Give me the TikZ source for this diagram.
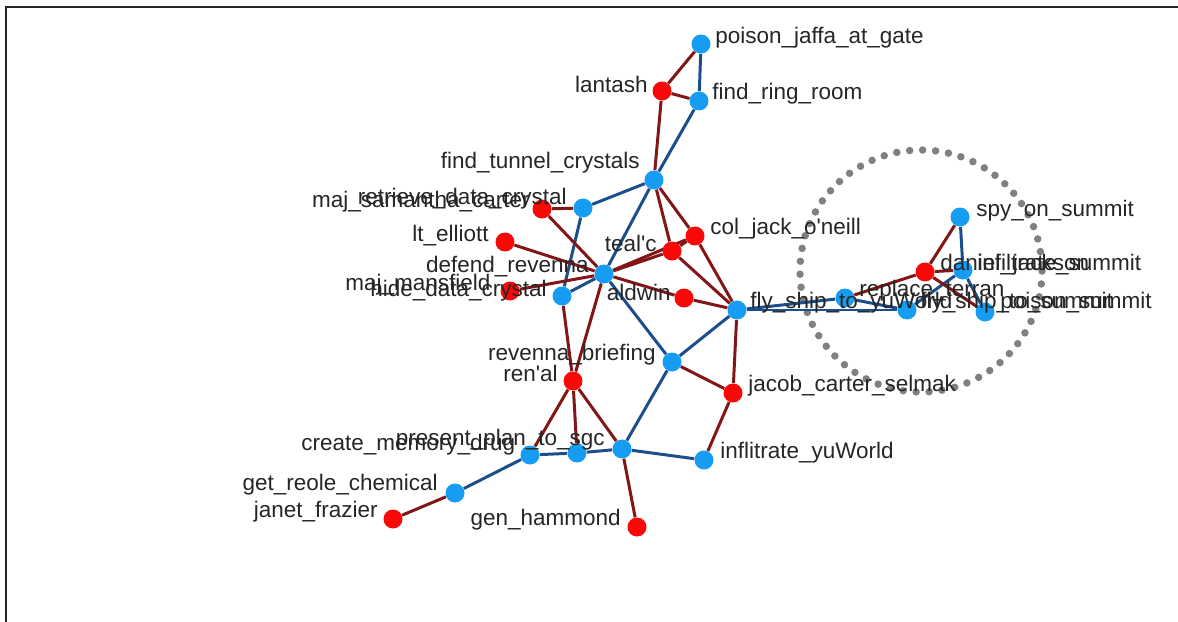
\documentclass[tikz,border=0pt]{standalone}
\usepackage{fontspec}
\setmainfont{Liberation Sans}
\usepackage{xcolor}
\usepackage{tikz}
\usetikzlibrary{backgrounds}
\definecolor{actblue}{RGB}{22,156,242}
\definecolor{agentred}{RGB}{250,8,8}
\definecolor{linkblue}{RGB}{28,78,140}
\definecolor{linkred}{RGB}{130,22,22}
\definecolor{dotgray}{RGB}{128,128,128}
\newcommand{\q}{\textquotesingle}

\begin{document}
\begin{tikzpicture}[x=0.02cm, y=-0.02cm,
    task/.style={circle, fill=actblue, inner sep=0pt, minimum size=0.38cm},
    agent/.style={circle, fill=agentred, inner sep=0pt, minimum size=0.38cm},
    lbl/.style={inner sep=0pt, font=\fontsize{12.8}{15}\selectfont, text=black!85},
    bl/.style={draw=linkblue, line width=1.7pt},
    rd/.style={draw=linkred, line width=1.7pt}]
    \useasboundingbox (0,0) rectangle (1178,622);

    \node[task] (pjg) at (701,44) {};
    \node[agent] (lan) at (662,91) {};
    \node[task] (frr) at (699,101) {};
    \node[task] (ftc) at (654,180) {};
    \node[task] (rdc) at (583,208) {};
    \node[agent] (msc) at (542,209) {};
    \node[agent] (lte) at (505,242) {};
    \node[agent] (cjo) at (695,236) {};
    \node[agent] (tea) at (672,251) {};
    \node[task] (dfr) at (604,274) {};
    \node[agent] (mmf) at (510,291) {};
    \node[task] (hdc) at (562,296) {};
    \node[agent] (ald) at (684,298) {};
    \node[task] (fsy) at (737,310) {};
    \node[task] (rpt) at (845,298) {};
    \node[task] (fss) at (907,310) {};
    \node[agent] (dja) at (925,272) {};
    \node[task] (ins) at (963,270) {};
    \node[task] (sos) at (960,217) {};
    \node[task] (pss) at (985,312) {};
    \node[task] (rvb) at (672,362) {};
    \node[agent] (rnl) at (573,381) {};
    \node[agent] (jcs) at (733,393) {};
    \node[task] (cmd) at (530,455) {};
    \node[task] (mid) at (577,453) {};
    \node[task] (pps) at (622,449) {};
    \node[task] (iyw) at (704,460) {};
    \node[task] (grc) at (455,493) {};
    \node[agent] (jfr) at (393,519) {};
    \node[agent] (gha) at (637,527) {};

    \node[lbl, anchor=west] (pjg-l) at (715,38) {poison\_jaffa\_at\_gate};
    \node[lbl, anchor=east] (lan-l) at (648,84) {lantash};
    \node[lbl, anchor=west] (frr-l) at (712,94) {find\_ring\_room};
    \node[lbl, anchor=east] (ftc-l) at (640,163) {find\_tunnel\_crystals};
    \node[lbl, anchor=east] (msc-l) at (530,202) {maj\_samantha\_carter};
    \node[lbl, anchor=east] (rdc-l) at (567,199) {retrieve\_data\_crystal};
    \node[lbl, anchor=east] (lte-l) at (489,236) {lt\_elliott};
    \node[lbl, anchor=west] (cjo-l) at (710,229) {col\_jack\_o\q neill};
    \node[lbl, anchor=east] (tea-l) at (657,243) {teal\q c};
    \node[lbl, anchor=east] (dfr-l) at (589,267) {defend\_revenna};
    \node[lbl, anchor=west] (mmf-l) at (345,285) {maj\_mansfield};
    \node[lbl, anchor=east] (hdc-l) at (547,291) {hide\_data\_crystal};
    \node[lbl, anchor=east] (ald-l) at (671,292) {aldwin};
    \node[lbl, anchor=west] (fsy-l) at (750,303) {fly\_ship\_to\_yuWorld};
    \node[lbl, anchor=west] (rpt-l) at (859,291) {replace\_terran};
    \node[lbl, anchor=west] (fss-l) at (920,303) {fly\_ship\_to\_summit};
    \node[lbl, anchor=west] (dja-l) at (940,265) {daniel\_jackson};
    \node[lbl, anchor=west] (ins-l) at (977,265) {infiltrate\_summit};
    \node[lbl, anchor=west] (sos-l) at (976,211) {spy\_on\_summit};
    \node[lbl, anchor=west] (pss-l) at (1000,303) {poison\_summit};
    \node[lbl, anchor=east] (rvb-l) at (656,355) {revenna\_briefing};
    \node[lbl, anchor=east] (rnl-l) at (558,373) {ren\q al};
    \node[lbl, anchor=west] (jcs-l) at (748,386) {jacob\_carter\_selmak};
    \node[lbl, anchor=west] (cmd-l) at (301,445) {create\_memory\_drug};
    \node[lbl, anchor=east] (pps-l) at (605,440) {present\_plan\_to\_sgc};
    \node[lbl, anchor=west] (iyw-l) at (720,453) {inflitrate\_yuWorld};
    \node[lbl, anchor=east] (grc-l) at (438,485) {get\_reole\_chemical};
    \node[lbl, anchor=east] (jfr-l) at (378,512) {janet\_frazier};
    \node[lbl, anchor=east] (gha-l) at (621,520) {gen\_hammond};

    \begin{scope}[on background layer]
        \fill[white] (0,0) rectangle (1178,622);
        \draw[black!85, line width=1.2pt] (6,622) -- (6,7) -- (1178,7);
        \coordinate (ring) at (921,271);
        \draw[dotgray, line width=0.15cm, line cap=round, dash pattern=on 0pt off 0.26cm] (ring) circle (121);

        \path
        (pjg) edge[bl] (frr)
        (frr) edge[bl] (ftc)
        (ftc) edge[bl] (rdc)
        (ftc) edge[bl] (dfr)
        (rdc) edge[bl] (hdc)
        (dfr) edge[bl] (hdc)
        (dfr) edge[bl] (rvb)
        (fsy) edge[bl] (rvb)
        (fsy) edge[bl] (rpt)
        (fsy) edge[bl] (fss)
        (rpt) edge[bl] (fss)
        (fss) edge[bl] (ins)
        (sos) edge[bl] (ins)
        (ins) edge[bl] (pss)
        (rvb) edge[bl] (pps)
        (pps) edge[bl] (iyw)
        (pps) edge[bl] (mid)
        (mid) edge[bl] (cmd)
        (cmd) edge[bl] (grc);

        \path
        (lan) edge[rd] (pjg)
        (lan) edge[rd] (frr)
        (lan) edge[rd] (ftc)
        (ftc) edge[rd] (tea)
        (ftc) edge[rd] (cjo)
        (tea) edge[rd] (cjo)
        (tea) edge[rd] (fsy)
        (cjo) edge[rd] (fsy)
        (ald) edge[rd] (fsy)
        (dfr) edge[rd] (tea)
        (dfr) edge[rd] (cjo)
        (dfr) edge[rd] (ald)
        (dfr) edge[rd] (msc)
        (rdc) edge[rd] (msc)
        (dfr) edge[rd] (lte)
        (dfr) edge[rd] (mmf)
        (dfr) edge[rd] (rnl)
        (hdc) edge[rd] (rnl)
        (fsy) edge[rd] (jcs)
        (rvb) edge[rd] (jcs)
        (jcs) edge[rd] (iyw)
        (rnl) edge[rd] (cmd)
        (rnl) edge[rd] (mid)
        (rnl) edge[rd] (pps)
        (pps) edge[rd] (gha)
        (grc) edge[rd] (jfr)
        (rpt) edge[rd] (dja)
        (dja) edge[rd] (sos)
        (dja) edge[rd] (pss)
        (dja) edge[rd] (ins);
    \end{scope}
\end{tikzpicture}
\end{document}
